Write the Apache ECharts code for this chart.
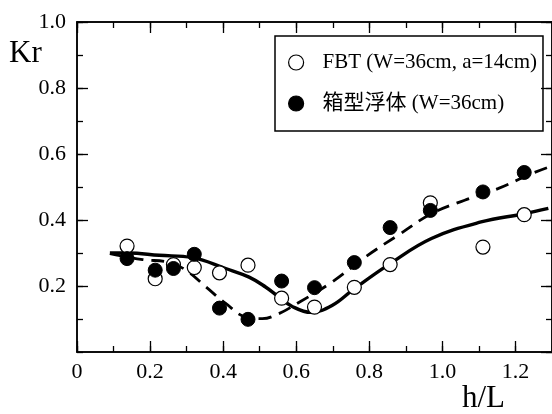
<!DOCTYPE html>
<html>
<head>
<meta charset="utf-8">
<script src="https://cdn.jsdelivr.net/npm/echarts@6/dist/echarts.min.js"></script>
<style>
  html, body { margin: 0; padding: 0; background: #fff; }
  #chart { width: 552px; height: 414px; }
</style>
</head>
<body>
<div id="chart"></div>
<script>
// measured points (h/L, Kr)
var hL = [0.137, 0.214, 0.264, 0.321, 0.390, 0.468, 0.560, 0.650, 0.759, 0.857, 0.967, 1.111, 1.224];
var krFBT = [0.321, 0.222, 0.265, 0.256, 0.240, 0.263, 0.163, 0.136, 0.196, 0.265, 0.452, 0.318, 0.416];
var krBox = [0.283, 0.248, 0.253, 0.296, 0.133, 0.099, 0.215, 0.195, 0.271, 0.377, 0.429, 0.485, 0.544];

// calculated curves
var solidX = [0.09, 0.14, 0.225, 0.316, 0.407, 0.471, 0.516, 0.552, 0.589, 0.64, 0.698, 0.759, 0.857, 0.970, 1.106, 1.224, 1.29];
var solidY = [0.300, 0.300, 0.293, 0.286, 0.253, 0.227, 0.197, 0.167, 0.138, 0.120, 0.141, 0.192, 0.268, 0.344, 0.394, 0.419, 0.435];
var dashX = [0.09, 0.18, 0.25, 0.298, 0.353, 0.407, 0.462, 0.507, 0.552, 0.607, 0.698, 0.789, 0.879, 0.970, 1.061, 1.152, 1.243, 1.29];
var dashY = [0.298, 0.280, 0.272, 0.248, 0.197, 0.147, 0.106, 0.101, 0.116, 0.150, 0.212, 0.288, 0.354, 0.419, 0.460, 0.495, 0.540, 0.560];

var legendNames = ['FBT (W=36cm, a=14cm)', '箱型浮体 (W=36cm)'];
var xTicks = ['0', '0.2', '0.4', '0.6', '0.8', '1.0', '1.2'];

var FONT = '"Liberation Serif", "Noto Sans CJK JP", serif';

function pairs(xs, ys) {
    var out = [];
    for (var i = 0; i < xs.length; i++) out.push([xs[i], ys[i]]);
    return out;
}

var chart = echarts.init(document.getElementById('chart'));

// x axes: major (with labels) + minor ticks, bottom and top
function xAxisDef(pos, interval, len, labels) {
    return {
        type: 'value', position: pos, min: 0, max: 1.3, interval: interval,
        axisLine: { show: true, onZero: false, lineStyle: { color: '#000', width: 1.5 } },
        axisTick: { show: true, inside: true, length: len, lineStyle: { color: '#000', width: 1.3 } },
        axisLabel: {
            show: labels, margin: 9, color: '#000', fontFamily: FONT, fontSize: 22,
            showMaxLabel: false,
            formatter: function (v) { return xTicks[Math.round(v / 0.2)] || ''; }
        },
        splitLine: { show: false }
    };
}
function yAxisDef(pos, interval, len, labels) {
    return {
        type: 'value', position: pos, min: 0, max: 1, interval: interval,
        axisLine: { show: true, onZero: false, lineStyle: { color: '#000', width: 1.5 } },
        axisTick: { show: true, inside: true, length: len, lineStyle: { color: '#000', width: 1.3 } },
        axisLabel: {
            show: labels, margin: 11, color: '#000', fontFamily: FONT, fontSize: 22,
            showMinLabel: false,
            formatter: function (v) { return v.toFixed(1); }
        },
        splitLine: { show: false }
    };
}

chart.setOption({
    animation: false,
    backgroundColor: '#fff',
    grid: { left: 77, top: 22, width: 477, height: 330, containLabel: false },
    xAxis: [
        xAxisDef('bottom', 0.2, 11, true),
        xAxisDef('bottom', 0.1, 6, false),
        xAxisDef('top', 0.2, 11, false),
        xAxisDef('top', 0.1, 6, false)
    ],
    yAxis: [
        yAxisDef('left', 0.2, 11, true),
        yAxisDef('left', 0.1, 6, false),
        yAxisDef('right', 0.2, 11, false),
        yAxisDef('right', 0.1, 6, false)
    ],
    legend: {
        data: legendNames,
        orient: 'vertical',
        left: 275, top: 36,
        padding: [16, 6, 17, 13],
        itemWidth: 43, itemHeight: 15, itemGap: 20,
        borderColor: '#000', borderWidth: 1.5,
        textStyle: { color: '#000', fontFamily: FONT, fontSize: 21, lineHeight: 15 },
        itemStyle: { borderWidth: 1.2, opacity: 1 }
    },
    graphic: [
        { type: 'text', left: 9, top: 38, style: { text: 'Kr', fontFamily: FONT, fontSize: 31, fill: '#000' } },
        { type: 'text', left: 462, top: 383, style: { text: 'h/L', fontFamily: FONT, fontSize: 31, fill: '#000' } }
    ],
    series: [
        {
            name: 'solid', type: 'line', smooth: 0.4, symbol: 'none',
            data: pairs(solidX, solidY), z: 2,
            lineStyle: { color: '#000', width: 3.4 }
        },
        {
            name: 'dashed', type: 'line', smooth: 0.4, symbol: 'none',
            data: pairs(dashX, dashY), z: 2,
            lineStyle: { color: '#000', width: 2.8, type: [13, 8] }
        },
        {
            name: legendNames[0], type: 'scatter', symbol: 'circle', symbolSize: 14,
            data: pairs(hL, krFBT), z: 3,
            itemStyle: { color: '#fff', borderColor: '#000', borderWidth: 1.2, opacity: 1 }
        },
        {
            name: legendNames[1], type: 'scatter', symbol: 'circle', symbolSize: 14,
            data: pairs(hL, krBox), z: 4,
            itemStyle: { color: '#000', borderColor: '#000', borderWidth: 1, opacity: 1 }
        }
    ]
});
</script>
</body>
</html>
